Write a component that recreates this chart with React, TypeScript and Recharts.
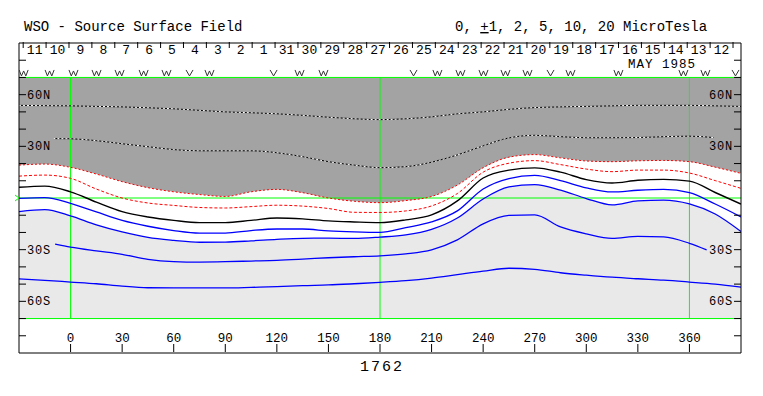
import { Area, ComposedChart, Line, ReferenceLine, Scatter, XAxis, YAxis } from "recharts";

const mono = "'Liberation Mono', 'DejaVu Sans Mono', monospace";

// longitude grid shared by the full-width contours
const lons = [-30, -15, 0, 15, 30, 45, 60, 75, 90, 105, 120, 135, 150, 165, 180, 195, 210, 225, 240, 255, 270, 285, 300, 315, 330, 345, 360, 375, 390];

// contour latitudes (degrees)
const pos10 = [53.8, 53.6, 53.5, 53.2, 52.9, 52.4, 51.8, 50.9, 50.0, 49.5, 48.9, 48.0, 46.9, 46.0, 45.5, 46.0, 47.1, 48.9, 50.0, 51.5, 52.5, 52.9, 53.2, 53.5, 53.8, 53.8, 53.8, 53.5, 53.2];
const pos2 = [19.1, 19.7, 17.8, 13.9, 9.5, 6.0, 3.6, 2.0, 0.9, 3.6, 5.0, 3.1, 0, -1.9, -2.7, -1.5, 0.9, 7.5, 17.6, 23.7, 25.2, 23.3, 21.5, 21.1, 21.6, 21.8, 21.1, 17.9, 14.3];
const pos1 = [12.7, 13.3, 11.4, 5.2, 0, -2.9, -4.3, -5.5, -5.8, -5.0, -4.2, -4.7, -6.1, -8.3, -8.4, -7.5, -4.6, 2.6, 15.0, 20.2, 21.7, 19.4, 16.8, 15.3, 16.2, 16.2, 14.5, 10.1, 5.6];
const neutral = [6.2, 6.9, 3.6, -2.4, -7.9, -11.0, -13.0, -14.3, -14.3, -13.0, -11.6, -12.1, -13.3, -13.9, -14.3, -12.7, -9.8, -1.7, 11.6, 16.2, 17.5, 15.0, 10.7, 8.7, 10.3, 10.8, 9.8, 3.2, -3.5];
const neg1 = [-0.2, 0.2, -3.1, -8.1, -13.0, -16.4, -18.9, -20.4, -20.4, -18.9, -18.0, -18.0, -19.1, -19.7, -20.0, -17.2, -13.9, -7.5, 5.2, 11.3, 13.1, 10.1, 5.9, 3.5, 4.5, 5.0, 3.1, -3.5, -11.0];
const neg2 = [-7.9, -6.8, -10.4, -15.6, -19.7, -22.9, -24.6, -25.7, -25.6, -24.9, -24.0, -23.4, -23.3, -23.5, -22.7, -21.4, -18.2, -11.6, -0.6, 6.4, 7.8, 4.6, -0.3, -4.0, -1.7, -1.2, -3.4, -9.3, -19.5];
const neg10 = [-47.0, -47.8, -48.8, -49.8, -51.2, -52.1, -52.2, -52.2, -52.2, -51.9, -51.5, -50.9, -50.5, -49.8, -49.0, -48.0, -46.5, -44.5, -42.5, -40.8, -41.4, -43.4, -44.8, -46.0, -46.9, -47.7, -48.8, -50.0, -51.7];

// shorter contours
const pos5Lons = [-10, 0, 15, 30, 45, 60, 75, 90, 105, 120, 135, 150, 165, 180, 195, 210, 225, 240, 255, 270, 285, 300, 315, 330, 345, 360, 374];
const pos5 = [34.5, 34.4, 33.3, 31.5, 29.8, 28.1, 27.4, 27.4, 27.4, 26.3, 24.0, 21.1, 19.1, 17.6, 18.2, 20.8, 25.0, 30.3, 34.9, 36.4, 35.6, 35.0, 35.0, 35.1, 35.6, 35.9, 35.1];
const neg5Lons = [-9, 0, 15, 30, 45, 60, 75, 90, 105, 120, 135, 150, 165, 180, 195, 210, 225, 240, 255, 270, 285, 300, 315, 330, 345, 360, 370];
const neg5 = [-26.8, -28.5, -30.7, -32.7, -35.6, -36.9, -37.2, -37.0, -36.6, -36.2, -35.5, -34.7, -34.1, -33.6, -32.4, -30.1, -24.3, -15.0, -10.1, -9.8, -16.8, -20.8, -23.4, -22.3, -22.6, -26.3, -30.1];

const lonTicks = [0, 30, 60, 90, 120, 150, 180, 210, 240, 270, 300, 330, 360];
const latTicks = [-80, -70, -60, -50, -40, -30, -20, -10, 0, 10, 20, 30, 40, 50, 60, 70, 80];
const latLabels: Record<string, string> = { "60": "60N", "30": "30N", "-30": "30S", "-60": "60S" };

const dayLabels = ["11", "10", "9", "8", "7", "6", "5", "4", "3", "2", "1", "31", "30", "29", "28", "27", "26", "25", "24", "23", "22", "21", "20", "19", "18", "17", "16", "15", "14", "13", "12"];
const firstDayLon = -20.9;
const dayStep = 13.32;

const markerLons = [-27.3, -12.2, 1.7, 15.1, 28.5, 42.5, 55.8, 69.2, 80.8, 118.1, 133.2, 147.1, 199.5, 213.4, 226.8, 240.2, 253.0, 265.8, 279.2, 290.8, 318.7, 356.5, 369.3, 386.8];
const markerKinds = ["W", "W", "W", "W", "W", "W", "W", "V", "W", "V", "W", "W", "V", "W", "W", "W", "W", "W", "V", "W", "W", "W", "W", "V"];

const rows = lons.map((lon, i) => ({
  lon,
  pos10: pos10[i],
  pos2: pos2[i],
  pos1: pos1[i],
  neutral: neutral[i],
  neg1: neg1[i],
  neg2: neg2[i],
  neg10: neg10[i],
  dark: [pos2[i], 70],
  light: [-70, neg2[i]]
}));
const pos5Rows = pos5Lons.map((lon, i) => ({ lon, v: pos5[i] }));
const neg5Rows = neg5Lons.map((lon, i) => ({ lon, v: neg5[i] }));
const markerRows = markerLons.map((lon, i) => ({ lon, lat: 72.6, kind: markerKinds[i] }));

const dayTicks = dayLabels.map((_, i) => firstDayLon + i * dayStep);
const dayMarks = [...dayLabels, ""].map((_, i) => firstDayLon - dayStep / 2 + i * dayStep);

function LonTick({ x, y, payload }: any) {
  const base = y - 1;
  return (
    <g>
      <line x1={x} x2={x} y1={base - 8} y2={base} stroke="#000" />
      <text x={x} y={base - 10} textAnchor="middle" fontSize={12.5} fontFamily={mono} fill="#000">
        {payload.value}
      </text>
    </g>
  );
}

function DayTick({ x, y, payload }: any) {
  const i = Math.round((payload.value - firstDayLon) / dayStep);
  return (
    <text x={x} y={y + 11} textAnchor="middle" fontSize={13} fontFamily={mono} fill="#000">
      {dayLabels[i]}
    </text>
  );
}

function DayMark({ x, y }: any) {
  return <line x1={x} x2={x} y1={y} y2={y + 6} stroke="#000" />;
}

function LeftLat({ x, y, payload }: any) {
  if (payload.value === 0) {
    return <polyline points={`${x - 4},${y - 3} ${x},${y} ${x - 4},${y + 3}`} fill="none" stroke="#00ff00" />;
  }
  const label = latLabels[String(payload.value)];
  return (
    <g>
      <line x1={x} x2={x + 7} y1={y} y2={y} stroke="#000" />
      {label && (
        <text x={x + 8} y={y + 4} fontSize={12} letterSpacing={0.8} fontFamily={mono} fill="#000">
          {label}
        </text>
      )}
    </g>
  );
}

function RightLat({ x, y, payload }: any) {
  if (payload.value === 0) return <g />;
  const label = latLabels[String(payload.value)];
  return (
    <g>
      <line x1={x - 7} x2={x} y1={y} y2={y} stroke="#000" />
      {label && (
        <text x={x - 8} y={y + 4} textAnchor="end" fontSize={12} letterSpacing={0.8} fontFamily={mono} fill="#000">
          {label}
        </text>
      )}
    </g>
  );
}

// small zigzag glyphs in the top strip
function Marker({ cx, cy, payload }: any) {
  const pts =
    payload.kind === "W"
      ? [[-4.5, -3], [-2.2, 3], [0, -2], [2.2, 3], [4.5, -3]]
      : [[-3.5, -3], [0, 3], [3.5, -3]];
  return (
    <polyline
      points={pts.map(([dx, dy]) => `${cx + dx},${cy + dy}`).join(" ")}
      fill="none"
      stroke="#333"
      strokeWidth={1}
    />
  );
}

const ax = { xAxisId: "lon", yAxisId: "lat" };

export default function App() {
  return (
    <div style={{ position: "absolute", left: 0, top: 0, width: 763, height: 396, background: "#fff" }}>
      <ComposedChart width={763} height={396} data={rows} margin={{ top: 41, right: 21, bottom: 42, left: 18 }}>
        <XAxis xAxisId="lon" type="number" dataKey="lon" domain={[-30, 390]} allowDataOverflow ticks={lonTicks} interval={0}
          height={1} tickSize={0} tickMargin={0} tickLine={false} axisLine={{ stroke: "#000" }} tick={<LonTick />} />
        <XAxis xAxisId="day" orientation="top" type="number" dataKey="lon" domain={[-30, 390]} allowDataOverflow ticks={dayTicks}
          interval={0} height={1} tickSize={0} tickMargin={0} tickLine={false} axisLine={{ stroke: "#000" }} tick={<DayTick />} />
        <XAxis xAxisId="dayMark" orientation="top" type="number" dataKey="lon" domain={[-30, 390]} allowDataOverflow ticks={dayMarks}
          interval={0} height={1} tickSize={0} tickMargin={0} tickLine={false} axisLine={false} tick={<DayMark />} />
        <YAxis yAxisId="lat" type="number" domain={[-90, 90]} allowDataOverflow ticks={latTicks} interval={0} width={1}
          tickSize={0} tickMargin={0} tickLine={false} axisLine={{ stroke: "#000" }} tick={<LeftLat />} />
        <YAxis yAxisId="latR" orientation="right" type="number" domain={[-90, 90]} allowDataOverflow ticks={latTicks} interval={0}
          width={1} tickSize={0} tickMargin={0} tickLine={false} axisLine={{ stroke: "#000" }} tick={<RightLat />} />

        <Area {...ax} type="monotone" dataKey="dark" fill="#a3a3a3" fillOpacity={1} stroke="none" isAnimationActive={false} />
        <Area {...ax} type="monotone" dataKey="light" fill="#e9e9e9" fillOpacity={1} stroke="none" isAnimationActive={false} />

        <ReferenceLine {...ax} y={70} stroke="#00ff00" />
        <ReferenceLine {...ax} y={-70} stroke="#00ff00" />
        <ReferenceLine {...ax} y={0} stroke="#00ff00" />
        {[0, 180, 360].map((lon) => (
          <ReferenceLine key={lon} {...ax} segment={[{ x: lon, y: -70 }, { x: lon, y: 70 }]} stroke="#00ff00" />
        ))}

        <Line {...ax} type="monotone" dataKey="pos10" stroke="#000" strokeWidth={1} dot={false} isAnimationActive={false} />
        <Line {...ax} type="monotone" dataKey="pos10" stroke="#fff" strokeWidth={1} strokeDasharray="2 2" dot={false} isAnimationActive={false} />
        <Line {...ax} data={pos5Rows} type="monotone" dataKey="v" stroke="#000" strokeWidth={1} dot={false} isAnimationActive={false} />
        <Line {...ax} data={pos5Rows} type="monotone" dataKey="v" stroke="#fff" strokeWidth={1} strokeDasharray="2 2" dot={false} isAnimationActive={false} />
        <Line {...ax} type="monotone" dataKey="pos2" stroke="#ff0000" strokeWidth={1} strokeDasharray="2 2" dot={false} isAnimationActive={false} />
        <Line {...ax} type="monotone" dataKey="pos1" stroke="#ff0000" strokeWidth={1} strokeDasharray="3 2" dot={false} isAnimationActive={false} />
        <Line {...ax} type="monotone" dataKey="neutral" stroke="#000" strokeWidth={1.4} dot={false} isAnimationActive={false} />
        <Line {...ax} type="monotone" dataKey="neg1" stroke="#0000ff" strokeWidth={1.3} dot={false} isAnimationActive={false} />
        <Line {...ax} type="monotone" dataKey="neg2" stroke="#0000ff" strokeWidth={1.3} dot={false} isAnimationActive={false} />
        <Line {...ax} data={neg5Rows} type="monotone" dataKey="v" stroke="#0000ff" strokeWidth={1.3} dot={false} isAnimationActive={false} />
        <Line {...ax} type="monotone" dataKey="neg10" stroke="#0000ff" strokeWidth={1.3} dot={false} isAnimationActive={false} />

        <Scatter {...ax} data={markerRows} dataKey="lat" shape={<Marker />} isAnimationActive={false} />
      </ComposedChart>

      <svg width={763} height={396} style={{ position: "absolute", left: 0, top: 0, pointerEvents: "none" }}>
        <text x={24} y={31} fontSize={14} fontFamily={mono} fill="#000">WSO - Source Surface Field</text>
        <text x={455} y={31} fontSize={14} fontFamily={mono} fill="#000">
          0, <tspan textDecoration="underline">+</tspan>1, 2, 5, 10, 20 MicroTesla
        </text>
        <text x={628} y={68} fontSize={12.5} letterSpacing={1} fontFamily={mono} fill="#000">MAY 1985</text>
        <text x={382} y={371} textAnchor="middle" fontSize={15} letterSpacing={2} fontFamily={mono} fill="#000">1762</text>
      </svg>
    </div>
  );
}
